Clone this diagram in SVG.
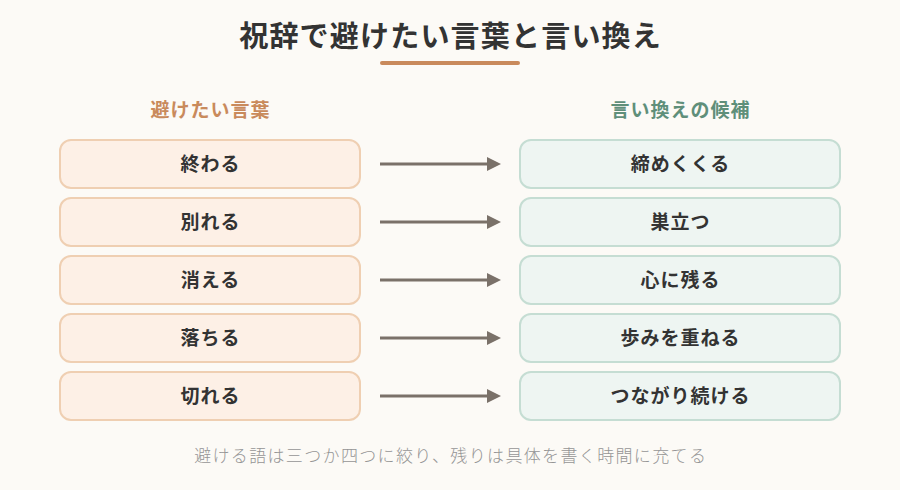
<svg xmlns="http://www.w3.org/2000/svg" width="900" height="490" viewBox="0 0 900 490">
<style>
text{font-family:"Noto Sans CJK JP","Noto Sans",sans-serif}
.title{font-size:29px;font-weight:700;fill:#333;letter-spacing:1.2px}
.hl{font-size:19px;font-weight:700;fill:#c98a5c;letter-spacing:1px}
.hr{font-size:19px;font-weight:700;fill:#5f8f7a;letter-spacing:1px}
.lbox{fill:#fdf0e6;stroke:#efcfb2;stroke-width:2}
.rbox{fill:#eef5f2;stroke:#c5ddd3;stroke-width:2}
.lab{font-size:19px;font-weight:700;fill:#333;letter-spacing:1px}
.arr{stroke:#7a7169;stroke-width:3;fill:none}
.foot{font-size:17px;fill:#959595;letter-spacing:1.35px;font-weight:300}
</style>
<defs>
<marker id="ah" markerWidth="14" markerHeight="14" refX="0" refY="7" orient="auto" markerUnits="userSpaceOnUse">
<path d="M0,0 L14,7 L0,14 Z" fill="#7a7169"/>
</marker>
</defs>
<rect width="900" height="490" fill="#fcfaf6"/>
<text class="title" x="450.6" y="47" text-anchor="middle">祝辞で避けたい言葉と言い換え</text>
<line x1="382" y1="63" x2="518" y2="63" stroke="#c98a5c" stroke-width="4" stroke-linecap="round"/>
<text class="hl" x="210.5" y="117" text-anchor="middle">避けたい言葉</text>
<text class="hr" x="680.5" y="117" text-anchor="middle">言い換えの候補</text>

<g id="l1"><rect class="lbox" x="60" y="140" width="300" height="48" rx="11"/><text class="lab" x="210.5" y="171" text-anchor="middle">終わる</text></g>
<g id="l2"><rect class="lbox" x="60" y="198" width="300" height="48" rx="11"/><text class="lab" x="210.5" y="229" text-anchor="middle">別れる</text></g>
<g id="l3"><rect class="lbox" x="60" y="256" width="300" height="48" rx="11"/><text class="lab" x="210.5" y="287" text-anchor="middle">消える</text></g>
<g id="l4"><rect class="lbox" x="60" y="314" width="300" height="48" rx="11"/><text class="lab" x="210.5" y="345" text-anchor="middle">落ちる</text></g>
<g id="l5"><rect class="lbox" x="60" y="372" width="300" height="48" rx="11"/><text class="lab" x="210.5" y="403" text-anchor="middle">切れる</text></g>

<g id="r1"><rect class="rbox" x="520" y="140" width="320" height="48" rx="11"/><text class="lab" x="680.5" y="171" text-anchor="middle">締めくくる</text></g>
<g id="r2"><rect class="rbox" x="520" y="198" width="320" height="48" rx="11"/><text class="lab" x="680.5" y="229" text-anchor="middle">巣立つ</text></g>
<g id="r3"><rect class="rbox" x="520" y="256" width="320" height="48" rx="11"/><text class="lab" x="680.5" y="287" text-anchor="middle">心に残る</text></g>
<g id="r4"><rect class="rbox" x="520" y="314" width="320" height="48" rx="11"/><text class="lab" x="680.5" y="345" text-anchor="middle">歩みを重ねる</text></g>
<g id="r5"><rect class="rbox" x="520" y="372" width="320" height="48" rx="11"/><text class="lab" x="680.5" y="403" text-anchor="middle">つながり続ける</text></g>

<g id="connectors">
<line class="arr" x1="380" y1="164" x2="487" y2="164" marker-end="url(#ah)"/>
<line class="arr" x1="380" y1="222" x2="487" y2="222" marker-end="url(#ah)"/>
<line class="arr" x1="380" y1="280" x2="487" y2="280" marker-end="url(#ah)"/>
<line class="arr" x1="380" y1="338" x2="487" y2="338" marker-end="url(#ah)"/>
<line class="arr" x1="380" y1="396" x2="487" y2="396" marker-end="url(#ah)"/>
</g>
<text class="foot" x="450.7" y="462" text-anchor="middle">避ける語は三つか四つに絞り、残りは具体を書く時間に充てる</text>
</svg>
